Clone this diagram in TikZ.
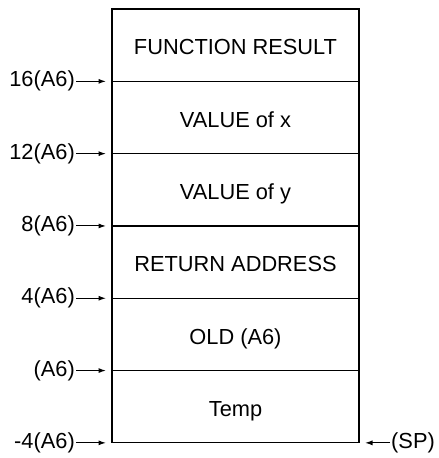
\documentclass[tikz,border=0pt]{standalone}
\usepackage{fontspec}
\setmainfont{Liberation Sans}
\usepackage{tikz}
\usetikzlibrary{positioning,arrows.meta,calc}
\tikzset{
cell/.style={
draw,
line width=1.3pt,
minimum width=247pt,
minimum height=72.3pt,
outer sep=0pt,
text height=22pt,
text depth=2.4pt,
align=center,
font=\fontsize{21.8}{24}\selectfont
},
tag/.style={
inner sep=1pt,
font=\fontsize{21.8}{24}\selectfont
},
ptr/.style={
-{Latex[length=7.5pt,width=5pt]},
line width=1.1pt
}
}
\begin{document}
\begin{tikzpicture}[x=1pt,y=1pt]
\useasboundingbox (0,0) rectangle (439,458);
\node[cell](r1) at (235.5,412.8){FUNCTION RESULT};
\node[cell,below=0pt of r1](r2){VALUE of x};
\node[cell,below=0pt of r2](r3){VALUE of y};
\node[cell,below=0pt of r3](r4){RETURN ADDRESS};
\node[cell,below=0pt of r4](r5){OLD (A6)};
\node[cell,below=0pt of r5](r6){Temp};

\node[tag,left=36pt of r1.south west](l1){16(A6)};
\node[tag,left=36pt of r2.south west](l2){12(A6)};
\node[tag,left=36pt of r3.south west](l3){8(A6)};
\node[tag,left=36pt of r4.south west](l4){4(A6)};
\node[tag,left=36pt of r5.south west](l5){(A6)};
\node[tag,left=36pt of r6.south west](l6){-4(A6)};
\node[tag,right=31pt of r6.south east](sp){(SP)};

\foreach \r in {1,...,6}
\coordinate(p\r) at ($(r\r.south west)+(-6pt,0)$);
\coordinate(q6) at ($(r6.south east)+(6pt,0)$);

\foreach \x/\y in {l1/p1,l2/p2,l3/p3,l4/p4,l5/p5,l6/p6,sp/q6}
\draw[ptr](\x)--(\y);
\end{tikzpicture}
\end{document}
